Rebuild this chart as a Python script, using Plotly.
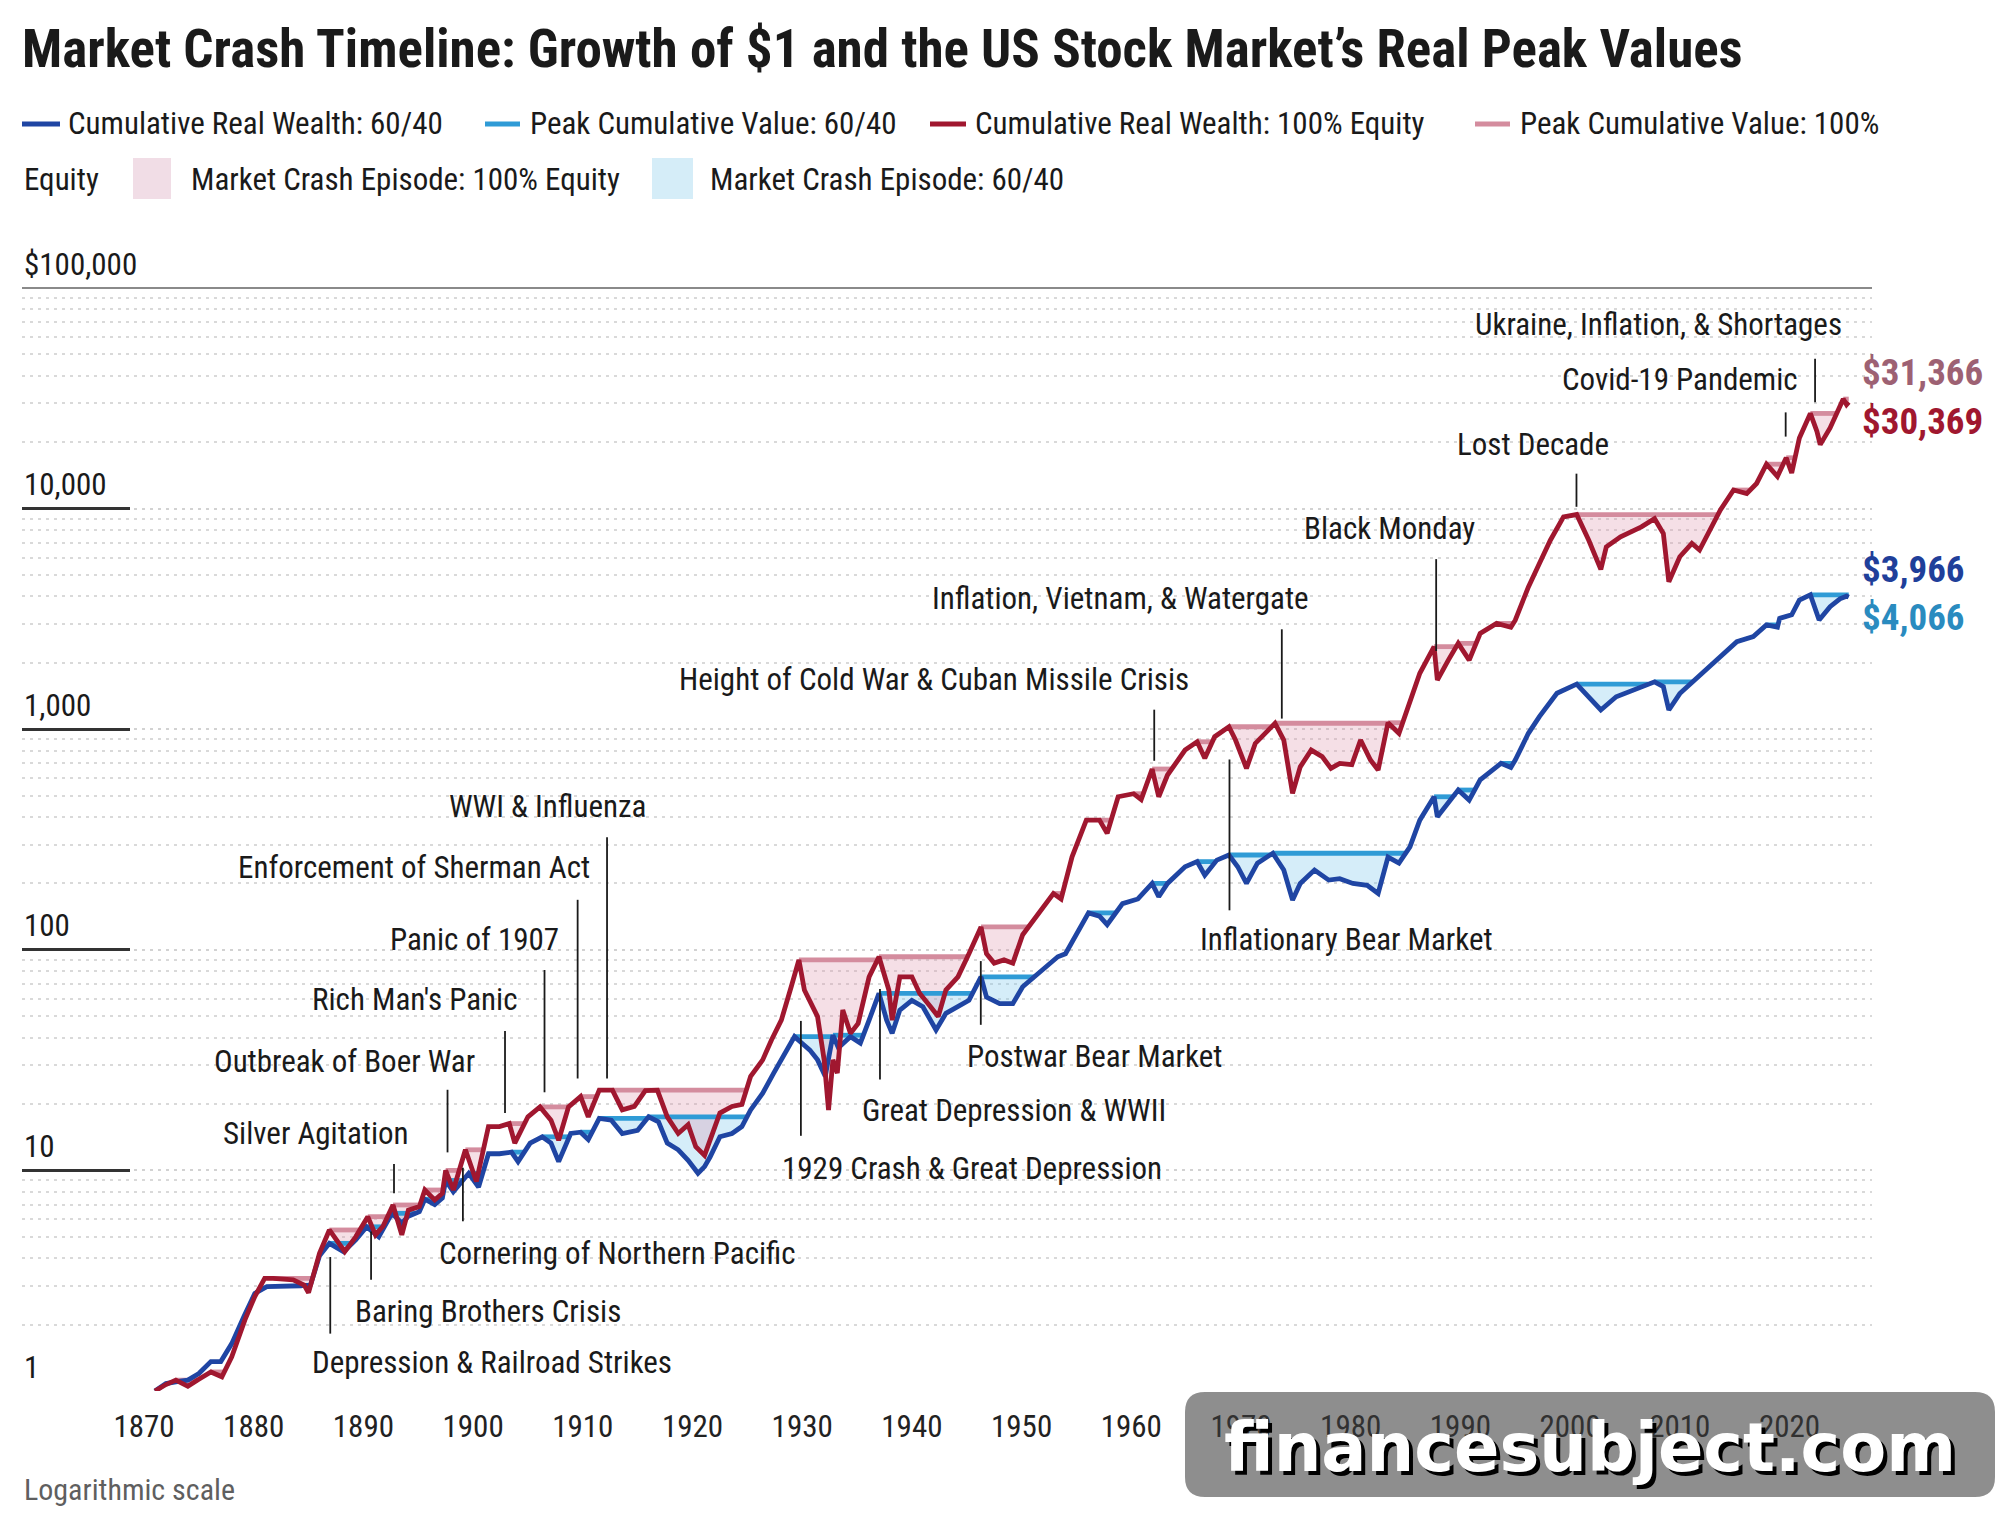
import numpy as np
import plotly.graph_objects as go

# ---------------- data ----------------
equity_years = [
    1871.0, 1872.0, 1872.9, 1874.0, 1875.0, 1876.1, 1877.1, 1878.0, 1879.2, 1880.1,
    1881.0, 1881.8, 1883.6, 1884.6, 1885.0, 1886.0, 1886.9, 1887.4, 1888.3, 1889.3,
    1890.4, 1891.1, 1891.8, 1892.7, 1893.5, 1894.1, 1895.1, 1895.6, 1896.5, 1897.2,
    1897.5, 1898.2, 1899.3, 1900.3, 1901.4, 1902.4, 1903.3, 1903.8, 1905.0, 1906.1,
    1907.1, 1907.8, 1908.7, 1909.8, 1910.5, 1911.5, 1912.7, 1913.6, 1914.7, 1915.7,
    1916.8, 1917.7, 1918.7, 1919.6, 1920.3, 1921.1, 1921.8, 1922.5, 1923.6, 1924.5,
    1925.3, 1926.4, 1927.2, 1928.1, 1929.0, 1929.7, 1930.2, 1930.7, 1931.4, 1932.0,
    1932.4, 1932.8, 1933.2, 1933.7, 1934.4, 1935.1, 1936.1, 1937.0, 1937.9, 1938.2,
    1938.9, 1940.0, 1940.7, 1941.7, 1942.4, 1943.1, 1944.2, 1945.2, 1946.3, 1946.8,
    1947.5, 1948.4, 1949.2, 1950.1, 1951.5, 1952.9, 1953.6, 1954.6, 1955.9, 1957.1,
    1957.8, 1958.8, 1960.2, 1960.9, 1961.9, 1962.5, 1963.3, 1964.9, 1966.0, 1966.7,
    1967.6, 1968.9, 1969.5, 1970.5, 1971.3, 1972.2, 1973.1, 1973.9, 1974.7, 1975.4,
    1976.4, 1977.4, 1978.2, 1979.0, 1980.1, 1980.9, 1981.8, 1982.5, 1983.4, 1984.4,
    1985.4, 1986.3, 1987.6, 1987.9, 1988.9, 1989.8, 1990.8, 1991.8, 1993.3, 1994.6,
    1995.0, 1996.2, 1997.2, 1998.2, 1999.4, 2000.6, 2001.7, 2002.8, 2003.3, 2004.6,
    2006.5, 2007.7, 2008.5, 2009.0, 2010.0, 2011.1, 2011.8, 2012.7, 2013.7, 2014.9,
    2016.1, 2017.0, 2017.9, 2018.9, 2019.7, 2020.2, 2020.9, 2021.9, 2022.5, 2022.8,
    2023.7, 2024.9, 2025.2, 2025.4,
]
equity_values = [
    1.00, 1.07, 1.12, 1.05, 1.13, 1.22, 1.16, 1.43, 2.10, 2.68,
    3.24, 3.24, 3.19, 3.02, 2.79, 4.21, 5.37, 4.92, 4.28, 5.00,
    6.17, 5.10, 5.60, 6.97, 5.10, 6.60, 6.85, 8.15, 7.34, 7.87,
    10.0, 8.15, 12.4, 8.9, 15.8, 15.8, 16.3, 13.3, 17.5, 19.4,
    16.9, 13.7, 19.4, 21.6, 17.5, 23.1, 23.1, 18.8, 19.5, 23.0,
    23.1, 17.5, 14.7, 16.1, 12.8, 11.7, 14.7, 18.2, 19.5, 19.9,
    26.7, 31.7, 39.0, 48.0, 68.0, 90.0, 65.7, 59.0, 49.8, 31.7,
    18.8, 31.7, 27.6, 53.3, 41.8, 46.4, 75.4, 93.0, 65.7, 48.0,
    75.4, 75.4, 63.5, 55.2, 49.8, 65.7, 75.4, 96.0, 127, 96,
    87, 90, 87, 117, 145, 180, 170, 264, 387, 387,
    337, 494, 510, 480, 660, 494, 620, 804, 877, 738,
    925, 1026, 893, 664, 862, 958, 1064, 893, 512, 675,
    804, 751, 664, 700, 690, 893, 725, 653, 1070, 958,
    1310, 1793, 2367, 1670, 2057, 2450, 2057, 2716, 3016, 2900,
    3120, 4418, 5640, 7190, 9180, 9400, 7190, 5300, 6710, 7450,
    8260, 9000, 7710, 4660, 6050, 6950, 6490, 8000, 9860, 12140,
    11700, 13000, 15900, 14000, 17000, 14500, 20900, 27000, 22400, 19500,
    23200, 31366, 29600, 30369,
]

balanced_years = [
    1871.0, 1872.0, 1872.9, 1874.0, 1875.0, 1876.1, 1877.0, 1878.0, 1879.1, 1880.1,
    1881.2, 1883.1, 1884.3, 1885.2, 1886.0, 1886.9, 1887.5, 1888.2, 1889.3, 1890.3,
    1891.4, 1892.6, 1893.5, 1894.1, 1895.1, 1895.6, 1896.5, 1897.2, 1897.5, 1898.2,
    1899.6, 1900.5, 1901.4, 1902.4, 1903.5, 1904.1, 1905.2, 1906.3, 1907.1, 1907.8,
    1908.9, 1909.8, 1910.5, 1911.5, 1912.6, 1913.6, 1915.0, 1916.0, 1916.9, 1917.7,
    1918.7, 1919.6, 1920.5, 1921.1, 1921.6, 1922.5, 1923.6, 1924.5, 1925.3, 1926.4,
    1927.4, 1928.4, 1929.3, 1929.9, 1930.7, 1931.4, 1932.1, 1932.8, 1933.3, 1934.4,
    1935.3, 1936.1, 1937.0, 1937.7, 1938.2, 1938.9, 1940.0, 1941.0, 1942.2, 1943.1,
    1944.2, 1945.2, 1946.3, 1946.8, 1948.0, 1949.2, 1950.1, 1951.2, 1952.2, 1953.3,
    1954.0, 1955.0, 1956.1, 1957.1, 1957.8, 1959.2, 1960.6, 1961.9, 1962.5, 1963.3,
    1964.9, 1966.0, 1966.7, 1967.8, 1968.9, 1969.7, 1970.5, 1971.5, 1972.9, 1973.9,
    1974.7, 1975.4, 1976.7, 1978.0, 1979.0, 1980.2, 1981.5, 1982.5, 1983.4, 1984.4,
    1985.4, 1986.3, 1987.6, 1987.9, 1988.9, 1989.8, 1990.8, 1991.8, 1993.7, 1994.6,
    1995.0, 1996.2, 1997.2, 1998.8, 2000.6, 2001.7, 2002.8, 2004.2, 2006.5, 2007.7,
    2008.5, 2009.0, 2010.0, 2011.2, 2012.4, 2013.7, 2015.2, 2016.7, 2017.9, 2018.9,
    2019.1, 2020.2, 2020.9, 2021.9, 2022.7, 2023.7, 2024.6, 2025.2, 2025.4,
]
balanced_values = [
    1.00, 1.08, 1.10, 1.12, 1.20, 1.36, 1.36, 1.64, 2.17, 2.77,
    2.97, 2.97, 3.00, 3.05, 4.10, 4.67, 4.50, 4.28, 4.84, 5.55,
    5.00, 6.39, 5.76, 6.20, 6.50, 7.40, 7.00, 7.50, 9.00, 8.00,
    9.70, 8.40, 11.9, 11.9, 12.1, 10.96, 13.3, 14.2, 13.3, 10.96,
    14.7, 14.9, 13.8, 17.2, 16.9, 14.7, 15.2, 17.5, 16.6, 13.3,
    12.4, 11.1, 9.7, 10.4, 11.5, 14.2, 14.7, 15.8, 18.8, 22.4,
    27.6, 34.0, 40.4, 38.0, 35.1, 31.7, 26.7, 41.0, 36.0, 40.4,
    37.8, 48.0, 63.5, 48.0, 41.8, 53.3, 59.0, 55.2, 43.3, 51.5,
    55.2, 59.0, 75.4, 61.0, 57.0, 57.0, 68.0, 75.4, 84, 93,
    96, 117, 147, 142, 130, 162, 170, 200, 174, 200,
    238, 251, 218, 255, 269, 238, 200, 247, 274, 230,
    168, 200, 230, 207, 210, 200, 196, 180, 263, 247,
    293, 387, 494, 401, 461, 530, 477, 589, 700, 670,
    725, 958, 1140, 1455, 1600, 1400, 1222, 1403, 1560, 1640,
    1560, 1222, 1450, 1650, 1855, 2130, 2495, 2630, 2970, 2900,
    3180, 3300, 3850, 4066, 3125, 3590, 3900, 4010, 3966,
]

x_tick_years = [1870, 1880, 1890, 1900, 1910, 1920, 1930, 1940, 1950,
                1960, 1970, 1980, 1990, 2000, 2010, 2020]
y_tick_values = [1, 10, 100, 1000, 10000, 100000]
y_tick_labels = ["1", "10", "100", "1,000", "10,000", "$100,000"]
y_minor_values = [m * 10 ** k for k in range(5) for m in range(2, 10)]

end_label_texts = ["$31,366", "$30,369", "$3,966", "$4,066"]

event_labels = [
    "Depression & Railroad Strikes", "Baring Brothers Crisis",
    "Cornering of Northern Pacific", "Silver Agitation", "Outbreak of Boer War",
    "Rich Man's Panic", "Panic of 1907", "Enforcement of Sherman Act",
    "WWI & Influenza", "1929 Crash & Great Depression", "Great Depression & WWII",
    "Postwar Bear Market", "Height of Cold War & Cuban Missile Crisis",
    "Inflation, Vietnam, & Watergate", "Inflationary Bear Market", "Black Monday",
    "Lost Decade", "Covid-19 Pandemic", "Ukraine, Inflation, & Shortages",
]

# ---------------- layout of the annotations (positions, not data) ----------------
# (leader year, leader top $, leader bottom $, text x year, text y $, anchor)
EVENT_LAYOUT = [
    (1886.98, 4.05, 1.82, 1885.12, 1.34, "left"),
    (1890.70, 5.28, 3.19, 1889.07, 2.284, "left"),
    (1899.07, 10.28, 5.88, 1896.74, 4.213, "left"),
    (1892.79, 10.70, 7.88, 1894.30, 14.72, "right"),
    (1897.67, 23.2, 12.07, 1900.35, 31.05, "right"),
    (1902.91, 42.8, 18.2, 1904.19, 59.66, "right"),
    (1906.51, 81.0, 22.6, 1908.02, 111.4, "right"),
    (1909.53, 168.5, 26.1, 1910.81, 235.0, "right"),
    (1912.21, 323.6, 26.1, 1915.93, 445.7, "right"),
    (1929.88, 47.6, 14.35, 1928.02, 10.15, "left"),
    (1937.09, 66.4, 25.8, 1935.23, 18.73, "left"),
    (1946.28, 88.9, 45.7, 1944.88, 32.76, "left"),
    (1962.09, 1226, 719, 1965.47, 1688, "right"),
    (1973.72, 2837, 1117, 1976.40, 3906, "right"),
    (1968.95, 729, 151, 1966.05, 111.5, "left"),
    (1987.79, 5902, 2262, 1991.51, 8125, "right"),
    (2000.58, 14400, 10190, 2003.72, 19560, "right"),
    (2019.65, 27300, 21200, 2020.93, 38600, "right"),
    (2022.33, 47750, 30350, 2025.00, 68400, "right"),
]

W, H = 2000, 1517
PLOT_L, PLOT_R, PLOT_T, PLOT_B = 22, 1872, 288, 1391
X_RANGE = [1858.88, 2027.52]

FONT = "Roboto Condensed, Liberation Sans Narrow, Arial Narrow, DejaVu Sans Condensed, sans-serif"
INK = "#1a1a1a"
RED, PINK = "#a0172f", "#d48c9e"
BLUE, LBLUE = "#1f45a3", "#2f9bd6"
PINK_FILL = "rgba(222,150,172,0.30)"
BLUE_FILL = "rgba(125,198,236,0.32)"


def px(xp):
    return (xp - PLOT_L) / (PLOT_R - PLOT_L)


def py(yp):
    return (PLOT_B - yp) / (PLOT_B - PLOT_T)


def peak_paths(xs, ys):
    """Running peak of a series (log space), plus the segments shown while in drawdown."""
    xs = [float(v) for v in xs]
    ly = list(np.log10(np.asarray(ys, dtype=float)))
    full_x, full_y = [xs[0]], [ly[0]]
    seg_x, seg_y = [], []
    peak = ly[0]
    in_dd = False
    for i in range(1, len(xs)):
        if ly[i] >= peak:
            if in_dd:
                t = (peak - ly[i - 1]) / (ly[i] - ly[i - 1])
                xc = xs[i - 1] + t * (xs[i] - xs[i - 1])
                full_x.append(xc)
                full_y.append(peak)
                seg_x += [xc, None]
                seg_y += [peak, None]
                in_dd = False
            peak = ly[i]
        else:
            if not in_dd:
                seg_x.append(xs[i - 1])
                seg_y.append(peak)
                in_dd = True
        full_x.append(xs[i])
        full_y.append(peak)
    if in_dd:
        seg_x.append(xs[-1])
        seg_y.append(peak)
    conv = lambda arr: [None if v is None else 10 ** v for v in arr]
    return full_x, conv(full_y), seg_x, conv(seg_y)


fig = go.Figure()

series = [
    (balanced_years, balanced_values, BLUE, LBLUE, BLUE_FILL),
    (equity_years, equity_values, RED, PINK, PINK_FILL),
]
peaks = []
# fills (crash episodes)
for xs, ys, c_line, c_peak, c_fill in series:
    fx, fy, sx, sy = peak_paths(xs, ys)
    peaks.append((sx, sy, c_peak))
    fig.add_trace(go.Scatter(x=fx, y=fy, mode="lines", line=dict(width=0),
                             hoverinfo="skip", showlegend=False))
    fig.add_trace(go.Scatter(x=xs, y=ys, mode="lines", line=dict(width=0),
                             fill="tonexty", fillcolor=c_fill,
                             hoverinfo="skip", showlegend=False))
# peak lines
for sx, sy, c_peak in peaks:
    fig.add_trace(go.Scatter(x=sx, y=sy, mode="lines", line=dict(color=c_peak, width=4.8),
                             hoverinfo="skip", showlegend=False, connectgaps=False))
# series lines
for xs, ys, c_line, c_peak, c_fill in series:
    fig.add_trace(go.Scatter(x=xs, y=ys, mode="lines",
                             line=dict(color=c_line, width=4.8, shape="linear"),
                             hoverinfo="skip", showlegend=False))

# leader lines for events
lx, ly_ = [], []
for (yr, top, bot, _tx, _ty, _a) in EVENT_LAYOUT:
    lx += [yr, yr, None]
    ly_ += [top, bot, None]
fig.add_trace(go.Scatter(x=lx, y=ly_, mode="lines", line=dict(color=INK, width=1.8),
                         hoverinfo="skip", showlegend=False))

annotations = []
# event labels
for label, (yr, top, bot, tx, ty, anchor) in zip(event_labels, EVENT_LAYOUT):
    annotations.append(dict(x=tx, y=np.log10(ty), xref="x", yref="y", text=label,
                            showarrow=False, xanchor=anchor, yanchor="middle",
                            font=dict(family=FONT, size=31, color=INK)))

# y tick labels (above each major line)
for v, t in zip(y_tick_values, y_tick_labels):
    annotations.append(dict(x=0, y=np.log10(v), xref="paper", yref="y", text=t,
                            showarrow=False, xanchor="left", yanchor="middle", yshift=24,
                            font=dict(family=FONT, size=31, color=INK)))

# end labels
end_label_pos = [(2026.4, 41230), (2026.4, 24870), (2026.4, 5305), (2026.4, 3199)]
end_label_colors = ["#9d6173", RED, "#1f3f9a", "#2a8bbf"]
for t, (ex, ey), c in zip(end_label_texts, end_label_pos, end_label_colors):
    annotations.append(dict(x=ex, y=np.log10(ey), xref="x", yref="y", text="<b>" + t + "</b>",
                            showarrow=False, xanchor="left", yanchor="middle",
                            font=dict(family=FONT, size=37, color=c)))

# legend (manual, wraps like the reference)
shapes = []
legend_lines = [
    (22, 60, 66, BLUE, "Cumulative Real Wealth: 60/40"),
    (485, 520, 528, LBLUE, "Peak Cumulative Value: 60/40"),
    (930, 966, 973, RED, "Cumulative Real Wealth: 100% Equity"),
    (1475, 1510, 1518, PINK, "Peak Cumulative Value: 100%"),
]
for x0, x1, tx, c, t in legend_lines:
    shapes.append(dict(type="line", xref="paper", yref="paper", x0=px(x0), x1=px(x1),
                       y0=py(124), y1=py(124), line=dict(color=c, width=5)))
    annotations.append(dict(x=px(tx), y=py(124), xref="paper", yref="paper", text=t,
                            showarrow=False, xanchor="left", yanchor="middle",
                            font=dict(family=FONT, size=31, color=INK)))
annotations.append(dict(x=px(22), y=py(179), xref="paper", yref="paper", text="Equity",
                        showarrow=False, xanchor="left", yanchor="middle",
                        font=dict(family=FONT, size=31, color=INK)))
legend_boxes = [
    (133, 171, 189, "#f1dde6", "Market Crash Episode: 100% Equity"),
    (652, 693, 708, "#d5edf8", "Market Crash Episode: 60/40"),
]
for x0, x1, tx, c, t in legend_boxes:
    shapes.append(dict(type="rect", xref="paper", yref="paper", x0=px(x0), x1=px(x1),
                       y0=py(199), y1=py(158), fillcolor=c, line=dict(width=0)))
    annotations.append(dict(x=px(tx), y=py(179), xref="paper", yref="paper", text=t,
                            showarrow=False, xanchor="left", yanchor="middle",
                            font=dict(family=FONT, size=31, color=INK)))

# top border line at $100,000
shapes.append(dict(type="line", xref="paper", yref="paper", x0=0, x1=1, y0=1, y1=1,
                   line=dict(color="#8a8a8a", width=2), layer="below"))

# footnote
annotations.append(dict(x=px(22), y=py(1489), xref="paper", yref="paper",
                        text="Logarithmic scale", showarrow=False, xanchor="left",
                        yanchor="middle", font=dict(family=FONT, size=30, color="#5f5f5f")))

# watermark box + text
bx0, bx1, by0, by1, r = px(1185), px(1995), py(1497), py(1392), 20
rx, ry = r / (PLOT_R - PLOT_L), r / (PLOT_B - PLOT_T)
path = (f"M {bx0+rx},{by0} L {bx1-rx},{by0} Q {bx1},{by0} {bx1},{by0+ry} "
        f"L {bx1},{by1-ry} Q {bx1},{by1} {bx1-rx},{by1} L {bx0+rx},{by1} "
        f"Q {bx0},{by1} {bx0},{by1-ry} L {bx0},{by0+ry} Q {bx0},{by0} {bx0+rx},{by0} Z")
shapes.append(dict(type="path", path=path, xref="paper", yref="paper",
                   fillcolor="rgba(60,60,60,0.58)", line=dict(width=0), layer="above"))
wm_x, wm_y = px(1590), py(1448)
for dx, dy, col in [(4, -4, "#000000"), (0, 0, "#ffffff")]:
    annotations.append(dict(x=wm_x, y=wm_y, xref="paper", yref="paper",
                            text="<b>financesubject.com</b>", showarrow=False,
                            xanchor="center", yanchor="middle", xshift=dx, yshift=dy,
                            font=dict(family="DejaVu Sans", size=67, color=col)))

fig.update_layout(
    width=W, height=H, autosize=False,
    margin=dict(l=PLOT_L, r=W - PLOT_R, t=PLOT_T, b=H - PLOT_B, pad=0),
    paper_bgcolor="white", plot_bgcolor="white",
    showlegend=False,
    title=dict(text="<b>Market Crash Timeline: Growth of $1 and the US Stock Market’s Real Peak Values</b>",
               x=22 / W, xref="container", xanchor="left",
               y=1 - 48 / H, yref="container", yanchor="middle",
               font=dict(family=FONT, size=53, color=INK)),
    annotations=annotations,
    shapes=shapes,
    xaxis=dict(range=X_RANGE, tickmode="array", tickvals=x_tick_years,
               ticktext=[str(v) for v in x_tick_years], showgrid=False, zeroline=False,
               showline=False, ticks="", ticklabelstandoff=14,
               tickfont=dict(family=FONT, size=31, color="#222222"), fixedrange=True),
    yaxis=dict(type="log", range=[0, 5], tickmode="array", tickvals=y_tick_values,
               showticklabels=False, ticks="inside", ticklen=108, tickwidth=2.5,
               tickcolor="#333333", showgrid=True, gridcolor="#d2d2d2", gridwidth=2,
               griddash="3px,5px", zeroline=False, showline=False, fixedrange=True,
               minor=dict(tickmode="array", tickvals=y_minor_values, showgrid=True,
                          gridcolor="#d9d9d9", gridwidth=2, griddash="3px,5px", ticks="")),
)

fig.write_html("out.html")
